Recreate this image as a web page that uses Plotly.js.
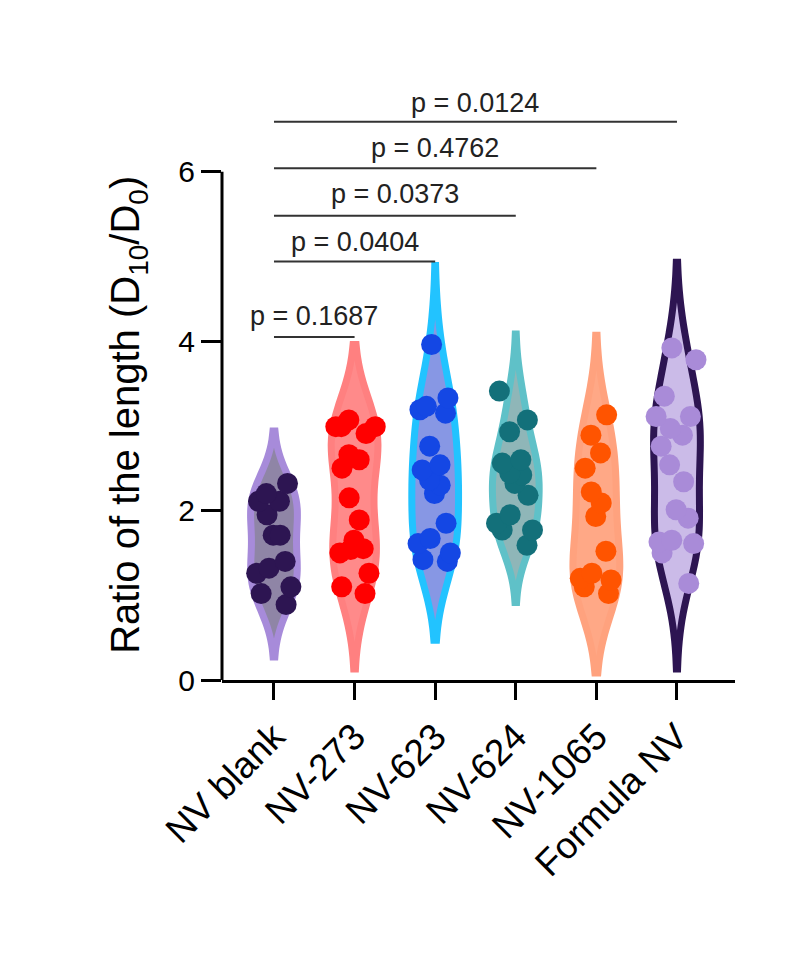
<!DOCTYPE html>
<html>
<head>
<meta charset="utf-8">
<script src="https://cdn.plot.ly/plotly-3.0.1.min.js"></script>
<style>html,body{margin:0;padding:0;background:#fff;}#chart{width:791px;height:953px;}</style>
</head>
<body>
<div id="chart"></div>
<script>
// ---- data ----
const categories = ["NV blank", "NV-273", "NV-623", "NV-624", "NV-1065", "Formula NV"];
const nvBlank   = [2.32, 2.20, 2.11, 2.11, 1.95, 1.71, 1.71, 1.40, 1.32, 1.26, 1.10, 1.02, 0.89];
const nv273     = [3.07, 2.99, 2.99, 2.99, 2.91, 2.66, 2.60, 2.50, 2.15, 1.89, 1.65, 1.55, 1.54, 1.50, 1.26, 1.10, 1.02];
const nv623     = [3.96, 3.33, 3.23, 3.19, 3.15, 2.76, 2.54, 2.48, 2.36, 2.30, 2.20, 1.85, 1.67, 1.61, 1.50, 1.42, 1.40];
const nv624     = [3.41, 3.07, 2.93, 2.60, 2.56, 2.44, 2.42, 2.32, 2.18, 1.95, 1.85, 1.77, 1.77, 1.59];
const nv1065    = [3.13, 2.89, 2.68, 2.50, 2.22, 2.09, 1.93, 1.52, 1.26, 1.20, 1.18, 1.10, 1.02];
const formulaNV = [3.92, 3.78, 3.35, 3.11, 3.11, 2.97, 2.89, 2.76, 2.54, 2.34, 2.01, 1.91, 1.65, 1.63, 1.61, 1.50, 1.14];
const yTickVals = [0, 2, 4, 6];
const yTitle = "Ratio of the length (D<sub>10</sub>/D<sub>0</sub>)";
// comparisons against NV blank (index 0)
const compareIdx = [1, 2, 3, 4, 5];
const pValues    = ["0.1687", "0.0404", "0.0373", "0.4762", "0.0124"];

// ---- styles ----
const series = [nvBlank, nv273, nv623, nv624, nv1065, formulaNV];
const lineColors = ["#a78bda", "#ff8080", "#22c3ff", "#5fc1c8", "#ffa27e", "#2d1552"];
const fillColors = ["#8f85a6", "#ff8a8a", "#8797e4", "#8fb6b8", "#ffa886", "#cbbbe8"];
const markerColors = ["#2d1552", "#ff0000", "#1447e4", "#13707a", "#ff5400", "#a98bd8"];
const bracketY = [4.05, 4.94, 5.48, 6.04, 6.59];
const labelY   = [4.30, 5.17, 5.74, 6.28, 6.81];
const FONT = "Liberation Sans, Arial, sans-serif";

const traces = series.map((vals, i) => ({
  type: "violin",
  y: vals,
  x0: i,
  name: categories[i],
  width: 0.58,
  points: "all",
  pointpos: 0,
  jitter: 1.0,
  box: {visible: false},
  meanline: {visible: false},
  line: {color: lineColors[i], width: 7},
  fillcolor: fillColors[i],
  marker: {color: markerColors[i], size: 21, opacity: 1, line: {width: 0}},
  showlegend: false,
  hoverinfo: "y"
}));

const shapes = [{
  type: "line", xref: "paper", yref: "y", x0: 0, x1: 0, y0: 0, y1: 6,
  line: {color: "#000", width: 3}
}];
const annotations = [{
  xref: "paper", yref: "y", x: 0, xshift: -94, y: 3.13, text: yTitle, textangle: -90,
  showarrow: false, xanchor: "center", yanchor: "middle",
  font: {family: FONT, size: 40, color: "#000"}
}];
compareIdx.forEach((j, k) => {
  shapes.push({type: "line", xref: "x", yref: "y", x0: 0, x1: j, y0: bracketY[k], y1: bracketY[k],
    line: {color: "#333", width: 2}});
  annotations.push({xref: "x", yref: "y", x: j / 2, y: labelY[k], text: "p = " + pValues[k],
    showarrow: false, yanchor: "middle", xanchor: "center",
    font: {family: FONT, size: 27, color: "#222"}});
});

const layout = {
  width: 791, height: 953,
  margin: {l: 222, r: 56, t: 70, b: 273},
  paper_bgcolor: "#fff", plot_bgcolor: "#fff",
  violinmode: "overlay",
  font: {family: FONT, color: "#000"},
  xaxis: {
    range: [-0.645, 5.72],
    tickvals: [0, 1, 2, 3, 4, 5],
    ticktext: categories,
    tickangle: -45,
    tickfont: {size: 37, color: "#000"},
    ticks: "outside", ticklen: 17, tickwidth: 3, tickcolor: "#000",
    showline: true, linewidth: 3, linecolor: "#000",
    showgrid: false, zeroline: false, fixedrange: true
  },
  yaxis: {
    range: [0, 7.2],
    tickvals: yTickVals,
    tickfont: {size: 30, color: "#000"},
    ticks: "outside", ticklen: 20, tickwidth: 3, tickcolor: "#000",
    showline: false, showgrid: false, zeroline: false,
    fixedrange: true
  },
  shapes: shapes,
  annotations: annotations
};

Plotly.newPlot("chart", traces, layout, {staticPlot: true, displayModeBar: false});
</script>
</body>
</html>
